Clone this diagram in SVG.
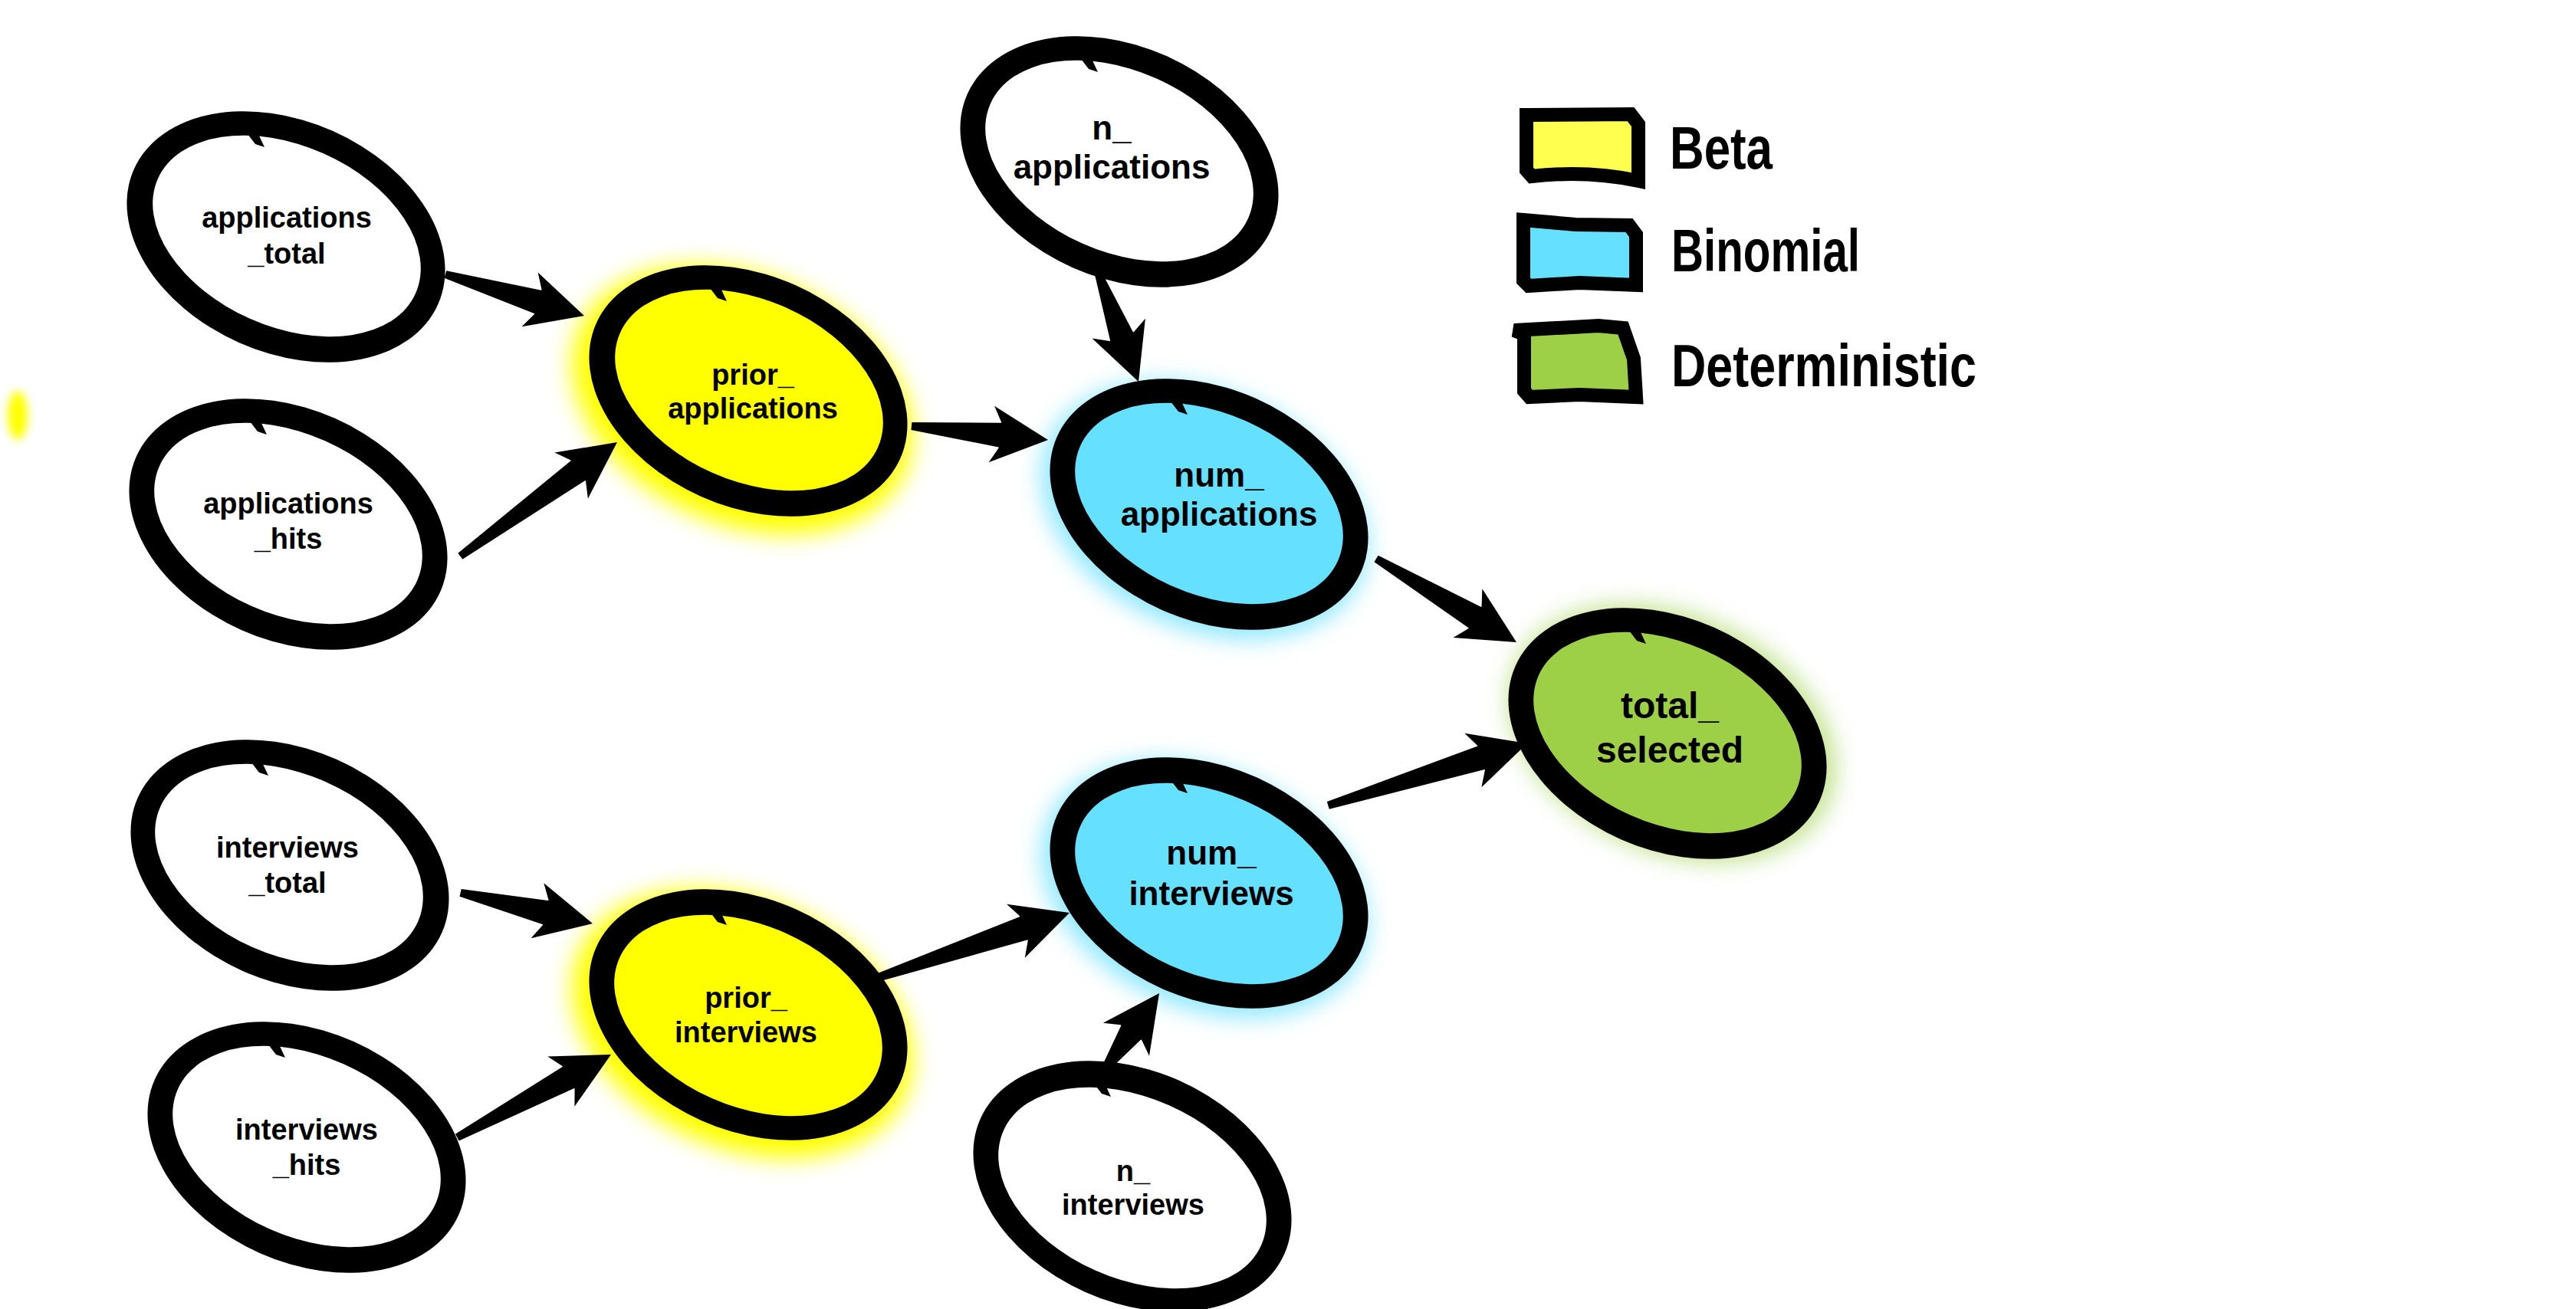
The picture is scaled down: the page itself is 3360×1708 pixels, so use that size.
<svg xmlns="http://www.w3.org/2000/svg" xmlns:xlink="http://www.w3.org/1999/xlink" width="3360" height="1708" viewBox="0 0 3360 1708">
<defs>
<style>
.ring{fill:#000}
.w{fill:#fff}
.y{fill:#ffff00}
.b{fill:#66e0ff}
.g{fill:#9dd046}
.t{font-family:"Liberation Sans",Arial,sans-serif;font-weight:bold;fill:#000;text-anchor:middle;font-size:38px}
.tl{font-size:44px}
.tx{font-size:48px}
.leg{font-family:"Liberation Sans",Arial,sans-serif;font-weight:bold;fill:#000;font-size:78px}
.box{stroke:#000;stroke-width:18;stroke-linejoin:miter}
.arrow{fill:#000}
</style>
<filter id="glow" x="-40%" y="-40%" width="180%" height="180%"><feGaussianBlur stdDeviation="14"/></filter>
<filter id="blob" x="-100%" y="-100%" width="300%" height="300%"><feGaussianBlur stdDeviation="6"/></filter>
<ellipse id="outer" rx="217" ry="151" transform="rotate(24)"/>
<ellipse id="inner" rx="184" ry="118" transform="rotate(24)"/>
<path id="notch" d="M-50,-134 L-36,-134 L-28,-117 L-40,-121 Z"/>
<path id="head" d="M-63,-17 L-74,-37 L0,0 L-74,37 L-63,17 Z"/>
</defs>
<rect width="3360" height="1708" fill="#fff"/>
<ellipse cx="23" cy="542" rx="13" ry="32" fill="#ffff00" filter="url(#blob)"/>

<g id="applications_total" transform="translate(373,309)">
<use href="#outer" class="ring"/>
<use href="#inner" class="w" x="1" y="-1"/>
<use href="#notch" class="ring"/>
<text class="t" x="1" y="-12">applications</text>
<text class="t" x="1" y="35">_total</text>
</g>

<g id="applications_hits" transform="translate(376,684)">
<use href="#outer" class="ring"/>
<use href="#inner" class="w" x="0" y="-1"/>
<use href="#notch" class="ring"/>
<text class="t" x="0" y="-14">applications</text>
<text class="t" x="0" y="32">_hits</text>
</g>

<g id="prior_applications" transform="translate(976,510)">
<use href="#outer" class="y" filter="url(#glow)" transform="translate(-8,12) scale(1.07)"/>
<use href="#outer" class="ring"/>
<use href="#inner" class="y" x="1" y="-1"/>
<use href="#notch" class="ring"/>
<text class="t" x="6" y="-8">prior_</text>
<text class="t" x="6" y="36">applications</text>
</g>

<g id="n_applications" transform="translate(1460,211)">
<use href="#outer" class="ring"/>
<use href="#inner" class="w" x="0" y="-1"/>
<use href="#notch" class="ring"/>
<text class="t tl" x="-10" y="-29">n_</text>
<text class="t tl" x="-10" y="22">applications</text>
</g>

<g id="num_applications" transform="translate(1577,658)">
<use href="#outer" class="b" filter="url(#glow)" opacity="0.7" transform="translate(-6,8) scale(1.03)"/>
<use href="#outer" class="ring"/>
<use href="#inner" class="b" x="0" y="-1"/>
<use href="#notch" class="ring"/>
<text class="t tl" x="13" y="-23">num_</text>
<text class="t tl" x="13" y="28">applications</text>
</g>

<g id="total_selected" transform="translate(2175,957)">
<use href="#outer" class="g" filter="url(#glow)" opacity="0.6" transform="translate(6,0) scale(1.03)"/>
<use href="#outer" class="ring"/>
<use href="#inner" class="g" x="0" y="-1"/>
<use href="#notch" class="ring"/>
<text class="t tx" x="3" y="-20">total_</text>
<text class="t tx" x="3" y="38">selected</text>
</g>

<g id="interviews_total" transform="translate(378,1129)">
<use href="#outer" class="ring"/>
<use href="#inner" class="w" x="-1" y="-1"/>
<use href="#notch" class="ring"/>
<text class="t" x="-3" y="-10">interviews</text>
<text class="t" x="-3" y="36">_total</text>
</g>

<g id="interviews_hits" transform="translate(400,1497)">
<use href="#outer" class="ring"/>
<use href="#inner" class="w" x="0" y="-1"/>
<use href="#notch" class="ring"/>
<text class="t" x="0" y="-10">interviews</text>
<text class="t" x="0" y="36">_hits</text>
</g>

<g id="prior_interviews" transform="translate(976,1324)">
<use href="#outer" class="y" filter="url(#glow)" transform="translate(-8,12) scale(1.07)"/>
<use href="#outer" class="ring"/>
<use href="#inner" class="y" x="0" y="1"/>
<use href="#notch" class="ring"/>
<text class="t" x="-3" y="-9">prior_</text>
<text class="t" x="-3" y="36">interviews</text>
</g>

<g id="num_interviews" transform="translate(1577,1152)">
<use href="#outer" class="b" filter="url(#glow)" opacity="0.7" transform="translate(-6,8) scale(1.03)"/>
<use href="#outer" class="ring"/>
<use href="#inner" class="b" x="0" y="1"/>
<use href="#notch" class="ring"/>
<text class="t tl" x="3" y="-24">num_</text>
<text class="t tl" x="3" y="29">interviews</text>
</g>

<g id="n_interviews" transform="translate(1477,1548)">
<use href="#outer" class="ring"/>
<use href="#inner" class="w" x="0" y="2"/>
<use href="#notch" class="ring"/>
<text class="t" x="1" y="-7">n_</text>
<text class="t" x="1" y="37">interviews</text>
</g>

<g id="connectors" class="arrow">
<g transform="translate(762,412) rotate(16.6)"><path d="M-189,-5 L-62,-16 L-62,16 L-189,5 Z"/><use href="#head"/></g>
<g transform="translate(805,577) rotate(-36)"><path d="M-253,-5 L-62,-16 L-62,16 L-253,5 Z"/><use href="#head"/></g>
<g transform="translate(1367,574) rotate(5.8)"><path d="M-179,-5 L-62,-16 L-62,16 L-179,5 Z"/><use href="#head"/></g>
<g transform="translate(1485,498) rotate(69.6)"><path d="M-149,-5 L-62,-16 L-62,16 L-149,5 Z"/><use href="#head"/></g>
<g transform="translate(1978,838) rotate(30.8)"><path d="M-213,-5 L-62,-16 L-62,16 L-213,5 Z"/><use href="#head"/></g>
<g transform="translate(1992,970) rotate(-17.3)"><path d="M-272,-5 L-62,-16 L-62,16 L-272,5 Z"/><use href="#head"/></g>
<g transform="translate(773,1205) rotate(13.1)"><path d="M-177,-5 L-62,-16 L-62,16 L-177,5 Z"/><use href="#head"/></g>
<g transform="translate(797,1376) rotate(-28.3)"><path d="M-228,-5 L-62,-16 L-62,16 L-228,5 Z"/><use href="#head"/></g>
<g transform="translate(1395,1191) rotate(-18.7)"><path d="M-271,-5 L-62,-16 L-62,16 L-271,5 Z"/><use href="#head"/></g>
<g transform="translate(1512,1296) rotate(-54.4)"><path d="M-122,-5 L-62,-16 L-62,16 L-122,5 Z"/><use href="#head"/></g>
</g>

<g id="legend">
<g id="legend_beta">
<path class="box" fill="#ffff50" d="M1991,150 L2127,149 L2137,162 L2137,236 Q2070,222 1998,230 L1991,222 Z"/>
<text class="leg" x="2178" y="220" textLength="134" lengthAdjust="spacingAndGlyphs">Beta</text>
</g>
<g id="legend_binomial">
<path class="box" fill="#66e0ff" d="M1987,287 L2055,293 L2125,294 L2134,306 L2134,372 L2060,369 L1994,373 L1987,366 Z"/>
<text class="leg" x="2180" y="354" textLength="246" lengthAdjust="spacingAndGlyphs">Binomial</text>
</g>
<g id="legend_deterministic">
<path class="box" fill="#9dd046" d="M1975,431 L2085,425 L2117,428 L2131,468 L2134,518 L2060,515 L1995,518 L1988,510 L1988,436 Z"/>
<text class="leg" x="2180" y="504" textLength="398" lengthAdjust="spacingAndGlyphs">Deterministic</text>
</g>
</g>
</svg>
